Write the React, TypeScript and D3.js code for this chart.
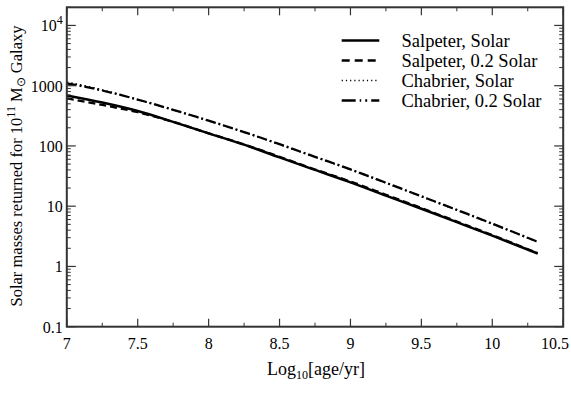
import React from "react";
import * as d3 from "d3";

const ages = [7.0, 7.25, 7.5, 7.75, 8.0, 8.25, 8.5, 8.75, 9.0, 9.25, 9.5, 9.75, 10.0, 10.32];
const salpeterSolar = [690, 525, 380, 251, 162, 105, 64.5, 40, 24.9, 15, 9.06, 5.43, 3.24, 1.64];
const salpeter02 = [617, 479, 363, 251, 162, 106, 66, 40.7, 25.7, 15.5, 9.33, 5.56, 3.31, 1.66];
const chabrierSolar = [1150, 850, 586, 396, 261, 169, 106, 65.5, 40.5, 24.3, 14.5, 8.6, 5.08, 2.55];
const chabrier02 = [1096, 832, 589, 398, 263, 170, 107, 66, 40.9, 24.5, 14.6, 8.7, 5.13, 2.57];

const seriesNames = ["Salpeter, Solar", "Salpeter, 0.2 Solar", "Chabrier, Solar", "Chabrier, 0.2 Solar"];
const xTicks = [7, 7.5, 8, 8.5, 9, 9.5, 10, 10.5];
const xTickLabels = ["7", "7.5", "8", "8.5", "9", "9.5", "10", "10.5"];
const yTicks = [0.1, 1, 10, 100, 1000, 10000];
const yTickLabels = ["0.1", "1", "10", "100", "1000", "10^4"];

const L = 66.8, R = 563.2, T = 7.3, B = 326.7;
const FONT = "'Liberation Serif', 'Times New Roman', serif";

export default function App() {
  const x = d3.scaleLinear().domain([7, 10.5]).range([L, R]);
  const y = d3.scaleLog().domain([0.1, 20000]).range([B, T]);
  const line = d3.line<[number, number]>().x(d => x(d[0])).y(d => y(d[1])).curve(d3.curveMonotoneX);

  const series = [salpeterSolar, salpeter02, chabrierSolar, chabrier02];
  const styles = [
    { w: 2.5, dash: undefined as string | undefined },
    { w: 2.3, dash: "7,4" },
    { w: 1.6, dash: "1.5,3" },
    { w: 2.3, dash: "10,3,2,3" },
  ];
  const order = [2, 3, 1, 0];

  const xMinor = d3.range(7, 10.5001, 0.25).filter(v => !xTicks.some(t => Math.abs(t - v) < 1e-6));
  const yMinor: number[] = [];
  for (let e = -1; e < 5; e++) for (let k = 2; k <= 9; k++) { const v = k * Math.pow(10, e); if (v <= 20000) yMinor.push(v); }
  const axisColor = "#333";

  return (
    <svg width={571} height={394} style={{ position: "absolute", left: 0, top: 0, background: "#fff" }} fontFamily={FONT}>
      <rect x={0} y={0} width={571} height={394} fill="#fff" />
      {order.map(i => (
        <path key={i} d={line(ages.map((a, j) => [a, series[i][j]] as [number, number])) || ""}
          fill="none" stroke="#000" strokeWidth={styles[i].w} strokeDasharray={styles[i].dash} />
      ))}
      {/* frame */}
      <rect x={L} y={T} width={R - L} height={B - T} fill="none" stroke={axisColor} strokeWidth={2} />
      {/* x ticks */}
      {xTicks.map((t, i) => (
        <g key={"xt" + i}>
          <line x1={x(t)} x2={x(t)} y1={B} y2={B - 8} stroke={axisColor} strokeWidth={1.2} />
          <line x1={x(t)} x2={x(t)} y1={T} y2={T + 8} stroke={axisColor} strokeWidth={1.2} />
          <text x={i === xTicks.length - 1 ? 569 : x(t)} y={B + 22} fontSize={16}
            textAnchor={i === xTicks.length - 1 ? "end" : "middle"}>{xTickLabels[i]}</text>
        </g>
      ))}
      {xMinor.map((t, i) => (
        <g key={"xm" + i}>
          <line x1={x(t)} x2={x(t)} y1={B} y2={B - 4} stroke={axisColor} strokeWidth={1} />
          <line x1={x(t)} x2={x(t)} y1={T} y2={T + 4} stroke={axisColor} strokeWidth={1} />
        </g>
      ))}
      {/* y ticks */}
      {yTicks.map((t, i) => (
        <g key={"yt" + i}>
          <line x1={L} x2={L + 9} y1={y(t)} y2={y(t)} stroke={axisColor} strokeWidth={1.2} />
          <line x1={R} x2={R - 9} y1={y(t)} y2={y(t)} stroke={axisColor} strokeWidth={1.2} />
          {yTickLabels[i] === "10^4" ? (
            <text x={L - 4} y={y(t) + 6} fontSize={16} textAnchor="end">10<tspan dy={-7} fontSize={12}>4</tspan></text>
          ) : (
            <text x={L - 4} y={y(t) + 6} fontSize={16} textAnchor="end">{yTickLabels[i]}</text>
          )}
        </g>
      ))}
      {yMinor.map((t, i) => (
        <g key={"ym" + i}>
          <line x1={L} x2={L + 4} y1={y(t)} y2={y(t)} stroke={axisColor} strokeWidth={1} />
          <line x1={R} x2={R - 4} y1={y(t)} y2={y(t)} stroke={axisColor} strokeWidth={1} />
        </g>
      ))}
      {/* axis titles */}
      <text x={316} y={375} fontSize={18} textAnchor="middle">Log<tspan dy={4} fontSize={12}>10</tspan><tspan dy={-4}>[age/yr]</tspan></text>
      <text transform={`translate(22,166) rotate(-90)`} fontSize={16.5} textAnchor="middle">
        Solar masses returned for 10<tspan dy={-7} fontSize={12}>11</tspan><tspan dy={7}> M</tspan><tspan dy={3} fontSize={12}>⊙</tspan><tspan dy={-3}> Galaxy</tspan>
      </text>
      {/* legend */}
      {seriesNames.map((n, i) => (
        <g key={"lg" + i}>
          <line x1={341.7} x2={379.3} y1={40.5 + i * 20} y2={40.5 + i * 20} stroke="#000"
            strokeWidth={styles[i].w} strokeDasharray={i === 1 ? "8,5" : i === 2 ? "1.2,3" : i === 3 ? "14,4,1.5,4,2,4" : undefined} />
          <text x={401.5} y={46.5 + i * 20} fontSize={18.5}>{n}</text>
        </g>
      ))}
    </svg>
  );
}
